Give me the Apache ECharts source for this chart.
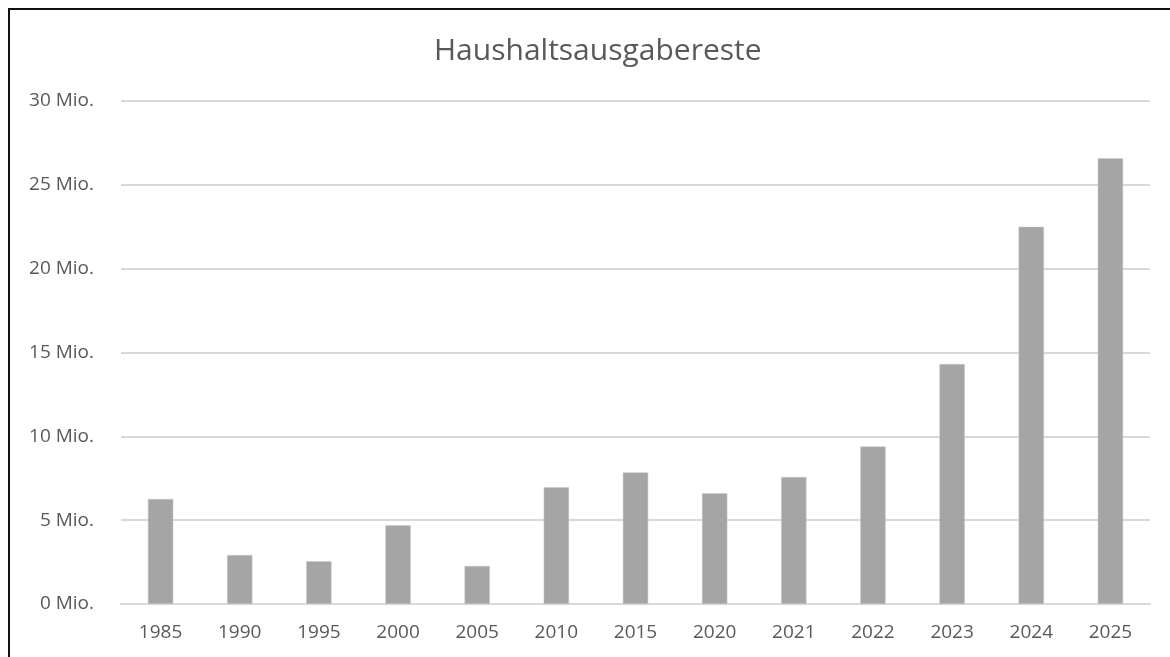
<!DOCTYPE html>
<html>
<head>
<meta charset="utf-8">
<script src="https://cdn.jsdelivr.net/npm/echarts@6/dist/echarts.min.js"></script>
<style>
html,body{margin:0;padding:0;background:#fff;}
#frame{position:absolute;left:8px;top:8px;width:1180px;height:680px;border:2px solid #111;box-sizing:border-box;}
#c{position:absolute;left:0;top:0;width:1170px;height:657px;}
</style>
</head>
<body>
<div id="frame"></div>
<div id="c"></div>
<script>
const categories = ['1985','1990','1995','2000','2005','2010','2015','2020','2021','2022','2023','2024','2025'];
const values = [6.26, 2.92, 2.55, 4.69, 2.27, 6.97, 7.85, 6.60, 7.57, 9.40, 14.31, 22.5, 26.58];
const yTicks = [0, 5, 10, 15, 20, 25, 30];
const title = 'Haushaltsausgabereste';

const chart = echarts.init(document.getElementById('c'), null, {renderer:'canvas'});
const font = '"Open Sans", "Noto Sans", sans-serif';
chart.setOption({
  backgroundColor: 'transparent',
  animation: false,
  title: {
    text: title, left: 429, top: 31,
    textStyle: {fontFamily: font, fontSize: 30, fontWeight: 'normal', color: '#595959'}
  },
  grid: {left: 121, right: 20, top: 101, bottom: 53, containLabel: false},
  xAxis: {
    type: 'category', data: categories,
    axisLine: {lineStyle: {color: '#d9d9d9', width: 2}},
    axisTick: {show: false},
    axisLabel: {fontFamily: font, fontSize: 19, color: '#595959', margin: 19}
  },
  yAxis: {
    type: 'value', min: yTicks[0], max: yTicks[yTicks.length-1], interval: 5,
    axisLine: {show: false}, axisTick: {show: false},
    splitLine: {lineStyle: {color: '#d9d9d9', width: 2}},
    axisLabel: {fontFamily: font, fontSize: 19, color: '#595959', margin: 27,
      formatter: v => v + ' Mio.'}
  },
  series: [{
    type: 'bar', data: values, barWidth: '32%',
    itemStyle: {color: '#a5a5a5', borderColor: '#c8c8c8', borderWidth: 0.5}
  }]
});
</script>
</body>
</html>
